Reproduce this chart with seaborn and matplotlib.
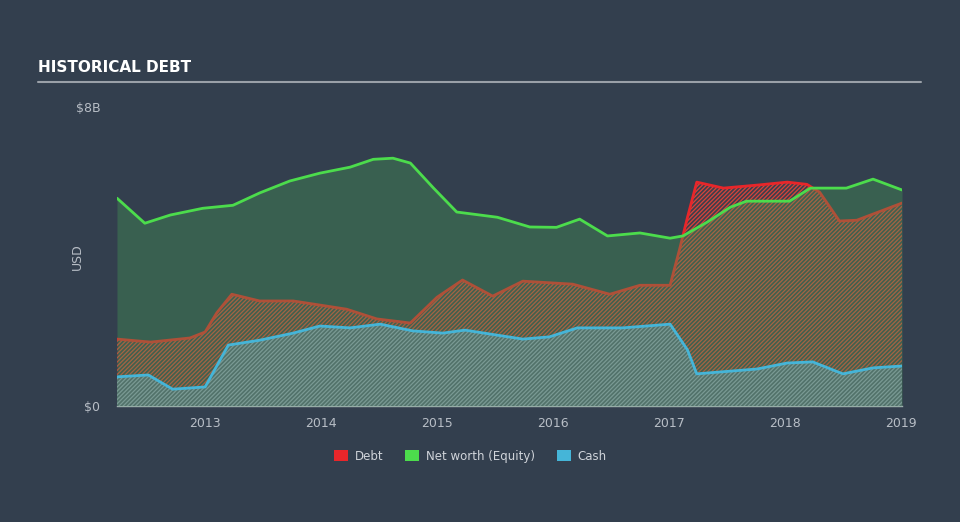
import numpy as np
import pandas as pd
import matplotlib
matplotlib.use("Agg")
import matplotlib.pyplot as plt
from matplotlib.patches import Patch
import seaborn as sns

# ---- data (USD billions, x in decimal years) ----
equity_year = [2012.24, 2012.48, 2012.70, 2012.98, 2013.24, 2013.47, 2013.73, 2013.99,
               2014.25, 2014.45, 2014.62, 2014.77, 2014.97, 2015.17, 2015.37, 2015.52,
               2015.80, 2016.03, 2016.23, 2016.47, 2016.75, 2017.01, 2017.12, 2017.33,
               2017.53, 2017.67, 2018.04, 2018.22, 2018.53, 2018.76, 2019.01]
equity_val = [5.56, 4.89, 5.11, 5.29, 5.37, 5.70, 6.02, 6.23,
              6.39, 6.60, 6.63, 6.50, 5.83, 5.19, 5.11, 5.05,
              4.79, 4.78, 5.00, 4.55, 4.63, 4.49, 4.55, 4.92,
              5.32, 5.48, 5.48, 5.83, 5.83, 6.07, 5.78]

debt_year = [2012.24, 2012.53, 2012.87, 2013.00, 2013.10, 2013.23, 2013.47, 2013.76,
             2013.99, 2014.22, 2014.48, 2014.77, 2015.00, 2015.22, 2015.48, 2015.74,
             2016.17, 2016.49, 2016.75, 2017.01, 2017.09, 2017.16, 2017.24, 2017.47,
             2017.76, 2018.02, 2018.19, 2018.30, 2018.47, 2018.62, 2019.01]
debt_val = [1.79, 1.71, 1.82, 1.98, 2.49, 2.99, 2.81, 2.81,
            2.70, 2.59, 2.33, 2.22, 2.91, 3.37, 2.94, 3.34,
            3.26, 2.99, 3.23, 3.23, 4.17, 5.05, 5.99, 5.83,
            5.91, 5.99, 5.93, 5.72, 4.95, 4.97, 5.43]

cash_year = [2012.24, 2012.51, 2012.72, 2013.00, 2013.20, 2013.47, 2013.76, 2013.99,
             2014.25, 2014.51, 2014.79, 2015.05, 2015.24, 2015.74, 2015.97, 2016.21,
             2016.60, 2017.01, 2017.16, 2017.24, 2017.76, 2018.02, 2018.24, 2018.50,
             2018.76, 2019.01]
cash_val = [0.78, 0.83, 0.45, 0.51, 1.63, 1.76, 1.95, 2.14,
            2.09, 2.19, 2.01, 1.95, 2.03, 1.79, 1.85, 2.09,
            2.09, 2.19, 1.50, 0.86, 0.99, 1.15, 1.18, 0.86,
            1.02, 1.07]

year_ticks = [2013, 2014, 2015, 2016, 2017, 2018, 2019]
y_ticks = [0, 8]
y_ticklabels = ["$0", "$8B"]
legend_labels = ["Debt", "Net worth (Equity)", "Cash"]

BG = "#333f4e"
RED = "#e8262a"
GREEN = "#4cdc4c"
BLUE = "#45b5d8"
TXT = "#b8bec6"

sns.set_theme(style="white")
plt.rcParams["font.family"] = ["DejaVu Sans"]
plt.rcParams["hatch.linewidth"] = 0.9

fig = plt.figure(figsize=(9.6, 5.22), dpi=100, facecolor=BG)
ax = fig.add_axes([117/960, 1-406/522, (902-117)/960, (406-107)/522])
ax.set_facecolor(BG)

df_e = pd.DataFrame({"year": equity_year, "v": equity_val})
df_d = pd.DataFrame({"year": debt_year, "v": debt_val})
df_c = pd.DataFrame({"year": cash_year, "v": cash_val})

# debt hatched area (red) below the equity veil
ax.fill_between(df_d["year"], 0, df_d["v"], facecolor="#3e3e4c", edgecolor="#d8443a",
                hatch="////////", linewidth=0, zorder=1)
sns.lineplot(data=df_d, x="year", y="v", color=RED, lw=2, ax=ax, zorder=2)

# equity translucent fill
ax.fill_between(df_e["year"], 0, df_e["v"], color="#47a054", alpha=0.35,
                linewidth=0, zorder=3)

# cash hatched area
ax.fill_between(df_c["year"], 0, df_c["v"], facecolor="#52726a", edgecolor="#7a9a94",
                hatch="////////", linewidth=0, zorder=4)

sns.lineplot(data=df_e, x="year", y="v", color=GREEN, lw=2, ax=ax, zorder=5)
sns.lineplot(data=df_c, x="year", y="v", color=BLUE, lw=2, ax=ax, zorder=6)

ax.set_xlim(equity_year[0], 2019.01)
ax.set_ylim(0, 8)
ax.set_xticks(year_ticks)
ax.set_xticklabels([str(y) for y in year_ticks], color=TXT, fontsize=9)
ax.set_yticks(y_ticks)
ax.set_yticklabels(y_ticklabels, color=TXT, fontsize=9)
ax.tick_params(axis="x", direction="out", length=5, width=1, color="#a8b0b8", pad=3)
ax.tick_params(axis="y", length=0, pad=12)
ax.set_xlabel("")
ax.set_ylabel("USD", color=TXT, fontsize=9)
ax.yaxis.set_label_coords(-0.042, 0.5)
for s in ["top", "right", "left"]:
    ax.spines[s].set_visible(False)
ax.spines["bottom"].set_color("#a8b0b8")
ax.spines["bottom"].set_linewidth(1)
ax.grid(False)
if ax.get_legend():
    ax.get_legend().remove()

# title and rule
fig.text(38/960, 1-68/522, "HISTORICAL DEBT", color="white", fontsize=11,
         fontweight="bold", family=["DejaVu Sans"], va="center", ha="left")
fig.add_artist(plt.Line2D([38/960, 921/960], [1-82/522, 1-82/522],
                          color="#9aa0a8", lw=1.5))

handles = [Patch(facecolor=RED, edgecolor="none"),
           Patch(facecolor=GREEN, edgecolor="none"),
           Patch(facecolor=BLUE, edgecolor="none")]
leg = fig.legend(handles, legend_labels, loc="center", bbox_to_anchor=(0.49, 1-456/522),
                 ncol=3, frameon=False, fontsize=8.5, handlelength=1.2, handleheight=1.0,
                 columnspacing=1.8, handletextpad=0.6)
for t in leg.get_texts():
    t.set_color("#d0d4da")

fig.savefig("out.png", dpi=100, facecolor=BG)
